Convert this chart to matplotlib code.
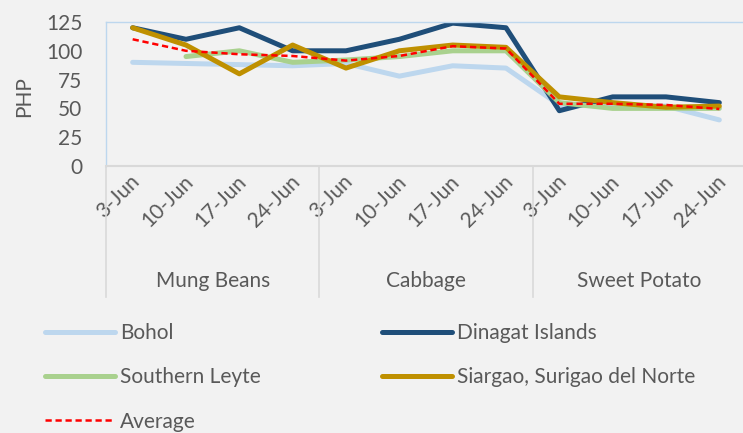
import numpy as np
import matplotlib
matplotlib.use('Agg')
import matplotlib.pyplot as plt
import matplotlib.transforms as mtransforms

plt.rcParams['font.family'] = ['Lato', 'DejaVu Sans']

# data
weeks = ['3-Jun', '10-Jun', '17-Jun', '24-Jun']
crops = ['Mung Beans', 'Cabbage', 'Sweet Potato']

bohol = [90, 89, 88, 87, 89, 78, 87, 85, 53, 52, 52, 40]
dinagat = [120, 110, 120, 100, 100, 110, 124, 120, 48, 60, 60, 55]
southern_leyte = [np.nan, 95, 100, 90, 92, 95, 100, 100, 55, 50, 50, 50]
siargao = [120, 105, 80, 105, 85, 100, 105, 103, 60, 55, 51, 52]
average = [110, 100, 97, 95.5, 91.5, 95.5, 104, 102, 54, 54, 53, 49.5]

series = [
    ('Bohol', bohol, '#BDD7EE'),
    ('Dinagat Islands', dinagat, '#1F4E79'),
    ('Southern Leyte', southern_leyte, '#A9D18E'),
    ('Siargao, Surigao del Norte', siargao, '#BF9000'),
]

txt = '#595959'
bg = '#F2F2F2'
fs = 15

fig = plt.figure(figsize=(7.43, 4.33), dpi=100, facecolor=bg)
ax = fig.add_axes([106/743, (433-166)/433, 640/743, 144/433])
ax.set_facecolor(bg)

x = np.arange(len(crops) * len(weeks))
handles = {}
for name, vals, col in series:
    ln, = ax.plot(x, vals, color=col, lw=3.6, solid_capstyle='round',
                  solid_joinstyle='round', label=name)
    handles[name] = ln
avg, = ax.plot(x, average, color='#FF0000', lw=1.8, ls=(0, (2.5, 1.5)), label='Average')
handles['Average'] = avg

ax.set_xlim(-0.5, len(x) - 0.5)
ax.set_ylim(0, 125)
ax.set_yticks(range(0, 126, 25))
ax.tick_params(axis='y', length=0, pad=17, labelsize=fs, labelcolor=txt)
ax.set_xticks(x)
ax.set_xticklabels(weeks * len(crops), rotation=45, ha='right', va='center',
                   rotation_mode='anchor', fontsize=fs, color=txt)
ax.tick_params(axis='x', length=0, pad=9)
offset = mtransforms.ScaledTranslation(4/100, 0, fig.dpi_scale_trans)
for lab in ax.get_xticklabels():
    lab.set_transform(lab.get_transform() + offset)

for s in ['left', 'top']:
    ax.spines[s].set_color('#BDD7EE')
    ax.spines[s].set_linewidth(1.0)
ax.spines['right'].set_visible(False)
ax.spines['bottom'].set_color('#D9D9D9')
ax.spines['bottom'].set_linewidth(1.5)

# category separators and group labels
trans = mtransforms.blended_transform_factory(ax.transData, ax.transAxes)
for i in range(len(crops) + 1):
    xs = i * len(weeks) - 0.5
    ax.plot([xs, xs], [0, -0.91], transform=trans, color='#D9D9D9', lw=1.2, clip_on=False)
for i, c in enumerate(crops):
    ax.text(i * len(weeks) + 1.5, -0.80, c, transform=trans, ha='center', va='center',
            fontsize=fs, color=txt)

fig.text(24/743, 1 - 97/433, 'PHP', rotation=90, ha='center', va='center',
         fontsize=fs, color=txt)

leg_kw = dict(loc='upper left', frameon=False, fontsize=fs, handlelength=3.36,
              handletextpad=0.25, labelspacing=1.17, borderpad=0, borderaxespad=0,
              labelcolor=txt)
col1 = ['Bohol', 'Southern Leyte', 'Average']
col2 = ['Dinagat Islands', 'Siargao, Surigao del Norte']
fig.legend([handles[n] for n in col1], col1, bbox_to_anchor=(45/743, 1 - 323/433), **leg_kw)
fig.legend([handles[n] for n in col2], col2, bbox_to_anchor=(382/743, 1 - 323/433), **leg_kw)

fig.savefig('out.png', dpi=100, facecolor=bg)
